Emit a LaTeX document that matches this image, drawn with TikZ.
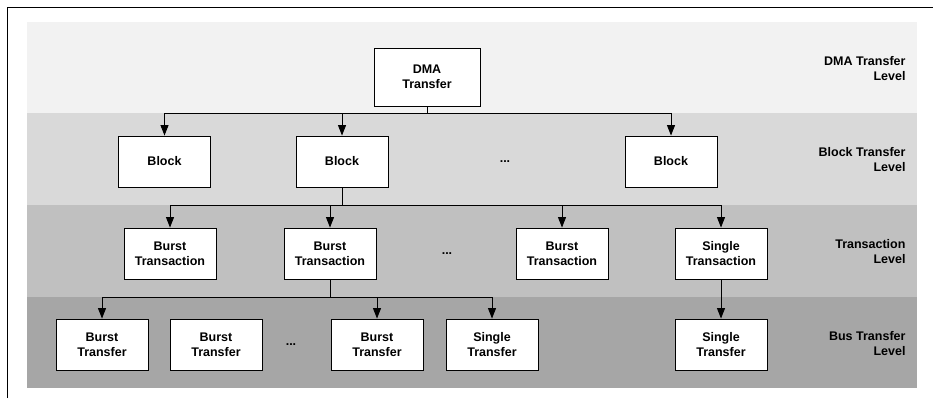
\documentclass[tikz,border=0pt]{standalone}
\usepackage{fontspec}
\setmainfont{Liberation Sans}
\usetikzlibrary{arrows.meta}
\definecolor{bandA}{HTML}{F2F2F2}
\definecolor{bandB}{HTML}{D9D9D9}
\definecolor{bandC}{HTML}{C0C0C0}
\definecolor{bandD}{HTML}{A6A6A6}
\begin{document}
\begin{tikzpicture}[x=1bp,y=-1bp,
  box/.style={draw=black,line width=0.9bp,fill=white,minimum width=92bp,minimum height=51bp,
    align=center,inner sep=1bp,font=\fontsize{12.5bp}{15bp}\selectfont\bfseries},
  dots/.style={font=\fontsize{12.5bp}{15bp}\selectfont\bfseries},
  lvl/.style={anchor=east,align=right,font=\fontsize{12.5bp}{15bp}\selectfont\bfseries},
  conn/.style={draw=black,line width=0.9bp},
  arr/.style={conn,-{Triangle[width=8bp,length=10.5bp]}}]
\useasboundingbox (0,0) rectangle (933,398);
% bands
\fill[bandA] (27,22) rectangle (917,113);
\fill[bandB] (27,113) rectangle (917,205);
\fill[bandC] (27,205) rectangle (917,297);
\fill[bandD] (27,297) rectangle (917,388);
% frame
\draw[black,line width=1bp] (7,398) -- (7,7) -- (933,7);
% level labels
\node[lvl] (l1) at (909,69) {DMA Transfer\\Level};
\node[lvl] (l2) at (909,160) {Block Transfer\\Level};
\node[lvl] (l3) at (909,252) {Transaction\\Level};
\node[lvl] (l4) at (909,344) {Bus Transfer\\Level};
% boxes
\node[box,minimum width=106bp,minimum height=58bp] (dma) at (427,77) {DMA\\Transfer};
\node[box] (b1) at (164.5,161.5) {Block};
\node[box] (b2) at (342,161.5) {Block};
\node[dots] (d1) at (505,162) {...};
\node[box] (b3) at (671,161.5) {Block};
\node[box] (t1) at (170,253.5) {Burst\\Transaction};
\node[box] (t2) at (330,253.5) {Burst\\Transaction};
\node[dots] (d2) at (447,254) {...};
\node[box] (t3) at (562,253.5) {Burst\\Transaction};
\node[box] (t4) at (721,253.5) {Single\\Transaction};
\node[box] (f1) at (102,344.5) {Burst\\Transfer};
\node[box] (f2) at (216,344.5) {Burst\\Transfer};
\node[dots] (d3) at (291,345) {...};
\node[box] (f3) at (377,344.5) {Burst\\Transfer};
\node[box] (f4) at (492,344.5) {Single\\Transfer};
\node[box] (f5) at (721,344.5) {Single\\Transfer};
% connectors
\coordinate (j1) at (427,113);
\coordinate (j2) at (342,205);
\coordinate (j3) at (330,297);
\draw[conn] (dma.south) -- (j1);
\draw[arr] (j1) -| (b1.north);
\draw[arr] (j1) -| (b2.north);
\draw[arr] (j1) -| (b3.north);
\draw[conn] (b2.south) -- (j2);
\draw[arr] (j2) -| (t1.north);
\draw[arr] (j2) -| (t2.north);
\draw[arr] (j2) -| (t3.north);
\draw[arr] (j2) -| (t4.north);
\draw[conn] (t2.south) -- (j3);
\draw[arr] (j3) -| (f1.north);
\draw[arr] (j3) -| (f3.north);
\draw[arr] (j3) -| (f4.north);
\draw[arr] (t4.south) -- (f5.north);
\end{tikzpicture}
\end{document}
